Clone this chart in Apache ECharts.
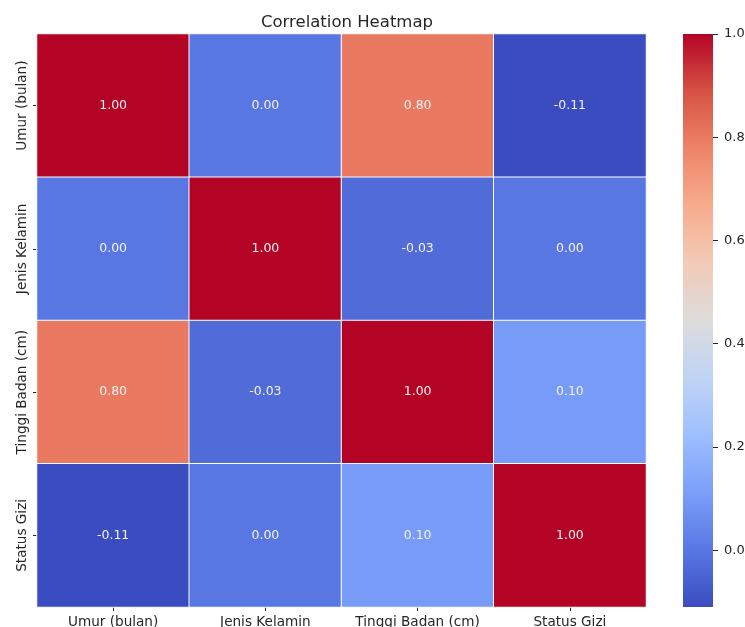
<!DOCTYPE html>
<html>
<head>
<meta charset="utf-8">
<script src="https://cdn.jsdelivr.net/npm/echarts@6/dist/echarts.min.js"></script>
<style>
  html, body { margin: 0; padding: 0; background: #fff; }
  #chart { width: 745px; height: 627px; }
</style>
</head>
<body>
<div id="chart"></div>
<script>
// Variables of the correlation matrix
const variables = ['Umur (bulan)', 'Jenis Kelamin', 'Tinggi Badan (cm)', 'Status Gizi'];

// Correlation rows, one per variable
const rowUmur    = [1.00, 0.00, 0.80, -0.11];
const rowJenis   = [0.00, 1.00, -0.03, 0.00];
const rowTinggi  = [0.80, -0.03, 1.00, 0.10];
const rowStatus  = [-0.11, 0.00, 0.10, 1.00];
const rows = [rowUmur, rowJenis, rowTinggi, rowStatus];

// Colour bar range and tick labels
const scaleMin = -0.11;
const scaleMax = 1.0;
const colorbarTicks = [0.0, 0.2, 0.4, 0.6, 0.8, 1.0];

// Diverging cool-warm palette (blue → grey → red)
const coolwarm = ['#3b4cc0', '#5977e3', '#7b9ff9', '#9ebeff', '#c0d4f5', '#dddcdc',
                  '#f2cbb7', '#f7ac8e', '#ee8468', '#d65244', '#b40426'];

const cells = [];
rows.forEach((row, r) => row.forEach((v, c) => cells.push([c, r, v])));

const font = 'DejaVu Sans';
const textColor = '#262626';

// Colour bar geometry; its scale axis sits in a 1px grid on the bar's right edge
const bar = { left: 683, top: 34, width: 30, height: 573 };

const chart = echarts.init(document.getElementById('chart'), null, { renderer: 'canvas' });
chart.setOption({
  animation: false,
  backgroundColor: '#ffffff',
  title: {
    text: 'Correlation Heatmap',
    left: 342, top: 9, textAlign: 'center',
    textStyle: { fontFamily: font, fontSize: 16.5, fontWeight: 'normal', color: textColor }
  },
  grid: [
    { left: 37, top: 34, width: 609, height: 573, outerBoundsMode: 'none', containLabel: false },
    { left: bar.left + bar.width, top: bar.top, width: 1, height: bar.height, outerBoundsMode: 'none', containLabel: false }
  ],
  xAxis: [
    {
      type: 'category', gridIndex: 0, data: variables,
      axisLine: { show: false },
      axisTick: { show: true, alignWithLabel: true, interval: 0, length: 4, lineStyle: { color: textColor } },
      axisLabel: { fontFamily: font, fontSize: 13.6, color: textColor, margin: 8, interval: 0 },
      splitLine: { show: false }
    },
    { type: 'value', gridIndex: 1, show: false, min: 0, max: 1 }
  ],
  yAxis: [
    {
      type: 'category', gridIndex: 0, data: variables, inverse: true,
      axisLine: { show: false },
      axisTick: { show: true, alignWithLabel: true, interval: 0, length: 4, lineStyle: { color: textColor } },
      axisLabel: { fontFamily: font, fontSize: 13.6, color: textColor, rotate: 90, margin: 8, interval: 0 },
      splitLine: { show: false }
    },
    {
      type: 'value', gridIndex: 1, position: 'right',
      min: scaleMin, max: scaleMax,
      axisLine: { show: false },
      splitLine: { show: false },
      axisTick: { show: true, inside: false, length: 5, customValues: colorbarTicks, lineStyle: { color: textColor } },
      axisLabel: {
        fontFamily: font, fontSize: 13, color: textColor, margin: 10,
        customValues: colorbarTicks,
        formatter: v => Number(v).toFixed(1)
      }
    }
  ],
  visualMap: {
    type: 'continuous',
    show: false,
    min: scaleMin, max: scaleMax,
    seriesIndex: 0,
    inRange: { color: coolwarm }
  },
  graphic: [{
    type: 'rect',
    shape: { x: bar.left, y: bar.top, width: bar.width, height: bar.height },
    style: {
      fill: new echarts.graphic.LinearGradient(0, 1, 0, 0,
        coolwarm.map((c, i) => ({ offset: i / (coolwarm.length - 1), color: c })))
    },
    silent: true,
    z: 0
  }],
  series: [{
    type: 'heatmap',
    xAxisIndex: 0, yAxisIndex: 0,
    data: cells,
    itemStyle: { borderColor: '#ffffff', borderWidth: 1 },
    label: {
      show: true, fontFamily: font, fontSize: 12.5, color: '#f2f2f2',
      formatter: p => p.value[2].toFixed(2)
    },
    emphasis: { disabled: true }
  }]
});
</script>
</body>
</html>
